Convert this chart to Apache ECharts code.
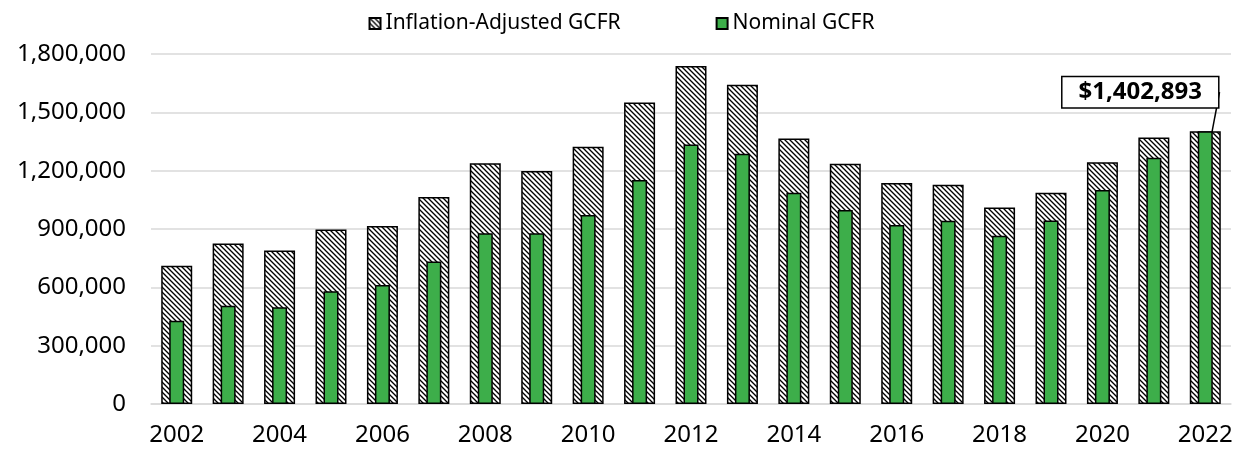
<!DOCTYPE html>
<html>
<head>
<meta charset="utf-8">
<script src="https://cdn.jsdelivr.net/npm/echarts@6/dist/echarts.min.js"></script>
<style>
  html, body { margin: 0; padding: 0; background: #fff; }
  #chart { width: 1243px; height: 449px; }
</style>
</head>
<body>
<div id="chart"></div>
<script>
// data
var years = ['2002', '2003', '2004', '2005', '2006', '2007', '2008', '2009', '2010', '2011',
  '2012', '2013', '2014', '2015', '2016', '2017', '2018', '2019', '2020', '2021', '2022'];
var inflationAdjusted = [711000, 826000, 790000, 898000, 915000, 1064000, 1238000, 1198000, 1323000, 1550000,
  1738000, 1642000, 1366000, 1236000, 1137000, 1127000, 1010000, 1086000, 1243000, 1371000, 1402893];
var nominal = [428000, 505000, 497000, 580000, 612000, 733000, 878000, 878000, 972000, 1152000,
  1334000, 1287000, 1087000, 998000, 920000, 943000, 865000, 944000, 1100000, 1267000, 1402893];
var yTicks = [0, 300000, 600000, 900000, 1200000, 1500000, 1800000];

var fontFamily = '"Noto Sans", "Open Sans", sans-serif';

// diagonal hatch tile
function makeHatch() {
  var s = 5;
  var c = document.createElement('canvas');
  c.width = s; c.height = s;
  var ctx = c.getContext('2d');
  ctx.fillStyle = '#fff';
  ctx.fillRect(0, 0, s, s);
  ctx.strokeStyle = '#000';
  ctx.lineWidth = 1.35;
  ctx.beginPath();
  ctx.moveTo(-1, -1); ctx.lineTo(s + 1, s + 1);
  ctx.moveTo(-1, s - 1); ctx.lineTo(1, s + 1);
  ctx.moveTo(s - 1, -1); ctx.lineTo(s + 1, 1);
  ctx.stroke();
  return c;
}

function fmt(v) {
  return v.toString().replace(/\B(?=(\d{3})+(?!\d))/g, ',');
}

var last = nominal.length - 1;
var nominalData = nominal.map(function (v, i) {
  if (i !== last) return v;
  return {
    value: v,
    label: {
      show: true,
      position: 'top',
      formatter: function (p) { return '$' + fmt(p.value); },
      fontFamily: fontFamily,
      fontSize: 24,
      fontWeight: 'bold',
      color: '#000',
      backgroundColor: '#fff',
      borderColor: '#000',
      borderWidth: 1.5,
      padding: [3, 16, 3, 16]
    },
    labelLine: {
      show: true,
      lineStyle: { color: '#000', width: 1.5 }
    }
  };
});

var chart = echarts.init(document.getElementById('chart'));
chart.setOption({
  animation: false,
  legend: {
    top: 8,
    left: 'center',
    itemWidth: 11,
    itemHeight: 11,
    itemGap: 95,
    textStyle: { fontFamily: fontFamily, fontSize: 21, color: '#000' },
    data: [
      { name: 'Inflation-Adjusted GCFR', icon: 'rect' },
      { name: 'Nominal GCFR', icon: 'rect' }
    ]
  },
  grid: { left: 151, right: 12, top: 54, bottom: 45, containLabel: false },
  xAxis: [{
    type: 'category',
    data: years,
    axisLine: { lineStyle: { color: '#d9d9d9', width: 1.5 } },
    axisTick: { show: false },
    axisLabel: {
      interval: 1,
      margin: 19,
      fontFamily: fontFamily,
      fontSize: 24,
      color: '#000'
    }
  }, {
    type: 'category',
    data: years,
    show: false
  }],
  yAxis: {
    type: 'value',
    min: yTicks[0],
    max: yTicks[yTicks.length - 1],
    interval: 300000,
    axisLine: { show: false },
    axisTick: { show: false },
    splitLine: { lineStyle: { color: '#d9d9d9', width: 1.5 } },
    axisLabel: {
      margin: 25,
      fontFamily: fontFamily,
      fontSize: 24,
      color: '#000',
      formatter: function (v) { return fmt(v); }
    }
  },
  series: [{
    name: 'Inflation-Adjusted GCFR',
    type: 'bar',
    xAxisIndex: 0,
    barWidth: 31,
    itemStyle: {
      color: { image: makeHatch(), repeat: 'repeat' },
      borderColor: '#000',
      borderWidth: 1.5
    },
    data: inflationAdjusted
  }, {
    name: 'Nominal GCFR',
    type: 'bar',
    xAxisIndex: 1,
    barWidth: 15,
    itemStyle: {
      color: '#3dae4a',
      borderColor: '#000',
      borderWidth: 1.5
    },
    labelLayout: function (p) {
      if (p.dataIndex === last) return { dx: -65, dy: -19 };
      return {};
    },
    data: nominalData
  }]
});
</script>
</body>
</html>
